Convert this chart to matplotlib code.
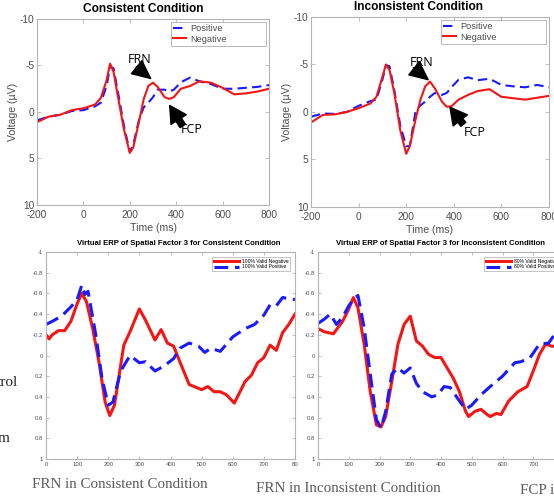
import matplotlib
matplotlib.use("Agg")
import matplotlib.pyplot as plt

# ---------------- data ----------------
top_time = [-200, -150, -100, -50, 0, 50, 75, 100, 115, 130, 150, 175, 200, 215, 240,
            260, 280, 300, 320, 350, 370, 390, 420, 460, 500, 550, 600, 650, 700, 750, 800]

cons_negative = [1.1, 0.5, 0.3, -0.2, -0.4, -0.8, -1.5, -3.4, -5.2, -4.3, -1.5, 1.9, 4.4, 3.8, 1.0,
                 -1.4, -2.8, -3.15, -2.7, -1.6, -1.4, -1.6, -2.5, -2.8, -3.3, -3.15, -2.6, -1.9, -2.0, -2.2, -2.5]
cons_positive = [0.9, 0.5, 0.3, -0.1, -0.2, -0.6, -1.0, -2.8, -4.9, -4.7, -2.0, 1.5, 4.3, 3.5, 0.8,
                 -0.5, -1.0, -1.6, -2.4, -2.4, -2.2, -2.4, -3.2, -3.7, -3.3, -3.0, -2.5, -2.5, -2.6, -2.7, -2.9]

incons_negative = [1.1, 0.3, 0.25, 0.0, -0.4, -0.9, -1.6, -3.7, -5.0, -4.4, -2.0, 1.9, 4.4, 3.6, 0.7,
                   -1.3, -2.7, -3.2, -2.5, -1.1, -0.55, -0.6, -1.3, -1.8, -2.2, -2.4, -1.6, -1.45, -1.3, -1.5, -1.7]
incons_positive = [0.5, 0.15, 0.2, 0.0, -0.65, -1.15, -1.3, -3.4, -4.95, -4.8, -2.3, 1.4, 3.6, 3.6, -0.2,
                   -0.7, -1.1, -1.6, -2.0, -1.8, -2.0, -2.6, -3.4, -3.65, -3.35, -3.5, -2.85, -2.7, -2.6, -2.85, -2.6]

bl_neg_time = [0, 10, 20, 40, 60, 80, 100, 115, 130, 150, 170, 190, 205, 220, 250, 270, 300, 320, 350,
               370, 390, 410, 430, 460, 500, 520, 540, 560, 580, 605, 620, 640, 660, 680, 700, 720, 740,
               760, 780, 800]
bl_negative = [-0.2, -0.16, -0.2, -0.24, -0.24, -0.33, -0.5, -0.6, -0.52, -0.26, 0.06, 0.45, 0.58, 0.48,
               -0.1, -0.23, -0.45, -0.34, -0.15, -0.25, -0.12, -0.09, 0.06, 0.28, 0.33, 0.30, 0.35, 0.35,
               0.38, 0.46, 0.37, 0.25, 0.19, 0.07, 0.02, -0.1, -0.05, -0.22, -0.3, -0.4]
bl_pos_time = [0, 20, 50, 80, 100, 115, 125, 135, 160, 180, 200, 215, 240, 270, 300, 320, 350, 380, 410,
               430, 460, 490, 510, 530, 560, 600, 640, 670, 700, 720, 740, 760, 780, 800]
bl_positive = [-0.3, -0.33, -0.38, -0.47, -0.54, -0.68, -0.59, -0.62, -0.2, 0.22, 0.48, 0.45, 0.15, 0.0,
               0.07, 0.06, 0.15, 0.1, 0.03, -0.07, -0.12, -0.09, -0.03, -0.07, -0.04, -0.18, -0.26, -0.3,
               -0.39, -0.49, -0.48, -0.56, -0.55, -0.54]

br_neg_time = [0, 20, 50, 80, 100, 115, 130, 150, 170, 190, 205, 220, 240, 260, 280, 300, 320, 340, 360,
               380, 400, 420, 440, 460, 480, 490, 510, 530, 550, 560, 580, 595, 620, 650, 680, 700, 720,
               740, 760, 780, 800]
br_negative = [-0.26, -0.23, -0.21, -0.33, -0.45, -0.56, -0.46, -0.11, 0.35, 0.67, 0.69, 0.59, 0.25, -0.11,
               -0.3, -0.38, -0.14, -0.09, -0.01, 0.02, 0.02, 0.12, 0.22, 0.35, 0.54, 0.59, 0.54, 0.52, 0.57,
               0.59, 0.56, 0.57, 0.44, 0.35, 0.30, 0.15, -0.01, -0.11, -0.09, -0.09, -0.12]
br_pos_time = [0, 20, 40, 60, 80, 100, 120, 130, 150, 170, 190, 205, 220, 240, 260, 280, 300, 320, 340,
               370, 390, 410, 430, 460, 480, 500, 530, 560, 600, 640, 660, 690, 720, 750, 780, 800]
br_positive = [-0.31, -0.35, -0.4, -0.3, -0.37, -0.48, -0.56, -0.58, -0.27, 0.18, 0.62, 0.7, 0.54, 0.18,
               0.12, 0.17, 0.12, 0.27, 0.35, 0.4, 0.38, 0.3, 0.31, 0.44, 0.52, 0.48, 0.38, 0.3, 0.2, 0.07,
               0.06, 0.02, -0.11, -0.12, -0.25, -0.33]

top_xticks = [-200, 0, 200, 400, 600, 800]
top_xticklabels = ['-200', '0', '200', '400', '600', '800']
top_yticks = [-10, -5, 0, 5, 10]
top_yticklabels = ['-10', '-5', '0', '5', '10']

bot_xticks = [0, 100, 200, 300, 400, 500, 600, 700, 800]
bl_xticklabels = ['0', '100', '200', '300', '400', '500', '600', '700', '80']
br_xticklabels = ['0', '100', '200', '300', '400', '500', '600', '700', '800']
bot_yticks = [-1, -0.8, -0.6, -0.4, -0.2, 0, 0.2, 0.4, 0.6, 0.8, 1]
bot_yticklabels = ['-1', '-0.8', '-0.6', '-0.4', '-0.2', '0', '0.2', '0.4', '0.6', '0.8', '1']

# ---------------- styling ----------------
RED = '#f41515'
BLUE = '#1a1aff'
SPINE = '#b4b4b4'
TICKC = '#4d4d4d'
plt.rcParams['font.family'] = ['Liberation Sans', 'DejaVu Sans']

W, H = 554, 500
fig = plt.figure(figsize=(W / 100, H / 100), dpi=100)


def box(l, t, r, b):
    return [l / W, 1 - b / H, (r - l) / W, (b - t) / H]


def style_axes(ax, fs, length, xpad=2):
    for s in ax.spines.values():
        s.set_color(SPINE)
        s.set_linewidth(0.8)
    ax.tick_params(axis='both', which='both', direction='in', length=length, width=0.6,
                   color=SPINE, labelcolor=TICKC, labelsize=fs, top=True, right=True, pad=2)
    ax.tick_params(axis='x', pad=xpad)


def top_panel(rect, title, title_x, neg, pos, leg_box, frn_text, frn_tip, frn_tail,
              fcp_text, fcp_tip, fcp_tail):
    ax = fig.add_axes(rect)
    ax.plot(top_time, pos, color=BLUE, lw=1.5, ls=(0, (4.5, 2.5)), label='Positive')
    ax.plot(top_time, neg, color=RED, lw=1.5, label='Negative')
    ax.set_xlim(-200, 800)
    ax.set_ylim(10, -10)
    ax.set_xticks(top_xticks)
    ax.set_xticklabels(top_xticklabels)
    ax.set_yticks(top_yticks)
    ax.set_yticklabels(top_yticklabels)
    style_axes(ax, 7.3, 3, xpad=3.5)
    ax.set_xlabel('Time (ms)', fontsize=7.6, color=TICKC, labelpad=2.5)
    ax.set_ylabel('Voltage (\u00b5V)', fontsize=7.6, color=TICKC, labelpad=1)
    ax.set_title(title, fontsize=8.6, fontweight='bold', x=title_x, pad=5.2)
    leg = ax.legend(loc='upper left', bbox_to_anchor=leg_box, mode='expand', fontsize=6.6,
                    frameon=True, fancybox=False, edgecolor='#999999', borderpad=0.25,
                    labelspacing=0.15, handlelength=1.4, handletextpad=0.45, borderaxespad=0)
    leg.get_frame().set_linewidth(0.6)
    for t in leg.get_texts():
        t.set_color(TICKC)
    head = dict(facecolor='black', edgecolor='black', width=0.1, headwidth=12, headlength=13, shrink=0)
    ax.annotate('', xy=frn_tip, xytext=frn_tail, arrowprops=head)
    arrow = dict(facecolor='black', edgecolor='black', width=4.5, headwidth=13, headlength=12, shrink=0)
    ax.annotate('', xy=fcp_tip, xytext=fcp_tail, arrowprops=arrow)
    ax.text(frn_text[0], frn_text[1], 'FRN', fontsize=9, ha='center', va='center', family='Open Sans')
    ax.text(fcp_text[0], fcp_text[1], 'FCP', fontsize=9, ha='center', va='center', family='Open Sans')
    return ax


top_panel(box(37, 19, 269, 205), 'Consistent Condition', 0.46, cons_negative, cons_positive,
          (0.578, 0.984, 0.409, 0.0),
          (244, -5.6), (290, -3.6), (228, -4.85), (468, 1.9), (372, -0.7), (428, 1.5))
top_panel(box(311, 17, 549, 207), 'Inconsistent Condition', 0.45, incons_negative, incons_positive,
          (0.546, 0.984, 0.441, 0.0),
          (266, -5.2), (292, -3.4), (230, -4.65), (489, 2.2), (384, -0.5), (440, 1.3))


def bottom_panel(rect, title, title_x, nt, neg, pt, pos, xlabels, labels):
    ax = fig.add_axes(rect)
    ax.plot(nt, neg, color=RED, lw=2.2, label=labels[0])
    ax.plot(pt, pos, color=BLUE, lw=2.2, ls=(0, (4.5, 2.2)), label=labels[1])
    ax.set_xlim(0, 800)
    ax.set_ylim(1, -1)
    ax.set_xticks(bot_xticks)
    ax.set_xticklabels(xlabels)
    ax.set_yticks(bot_yticks)
    ax.set_yticklabels(bot_yticklabels)
    style_axes(ax, 4.3, 2)
    ax.set_title(title, fontsize=5.6, fontweight='bold', x=title_x, pad=5)
    leg = ax.legend(loc='upper right', fontsize=3.6, frameon=True, fancybox=False,
                    edgecolor='#999999', borderpad=0.3, labelspacing=0.2, handlelength=5,
                    handletextpad=0.6, borderaxespad=1.0)
    leg.get_frame().set_linewidth(0.5)
    return ax


bottom_panel(box(46, 252, 295, 459), 'Virtual ERP of Spatial Factor 3 for Consistent Condition', 0.535,
             bl_neg_time, bl_negative, bl_pos_time, bl_positive, bl_xticklabels,
             ['100% Valid Negative', '100% Valid Positive'])
bottom_panel(box(318, 252, 564, 459), 'Virtual ERP of Spatial Factor 3 for Inconsistent Condition', 0.5,
             br_neg_time, br_negative, br_pos_time, br_positive, br_xticklabels,
             ['80% Valid Negative', '80% Valid Positive'])

SERIF = ['Liberation Serif', 'DejaVu Serif']
GRAYTXT = '#5a5a5a'
fig.text(32 / W, 1 - 485 / H, 'FRN in Consistent Condition', family=SERIF, fontsize=10.8,
         color=GRAYTXT, ha='left', va='center')
fig.text(256 / W, 1 - 489 / H, 'FRN in Inconsistent Condition', family=SERIF, fontsize=10.8,
         color=GRAYTXT, ha='left', va='center')
fig.text(520 / W, 1 - 491 / H, 'FCP i', family=SERIF, fontsize=10.8,
         color=GRAYTXT, ha='left', va='center')
fig.text(18 / W, 1 - 382 / H, 'trol', family=SERIF, fontsize=11, color='#222222', ha='right', va='center')
fig.text(10 / W, 1 - 438 / H, 'm', family=SERIF, fontsize=11, color='#222222', ha='right', va='center')

fig.savefig('out.png', dpi=100)
